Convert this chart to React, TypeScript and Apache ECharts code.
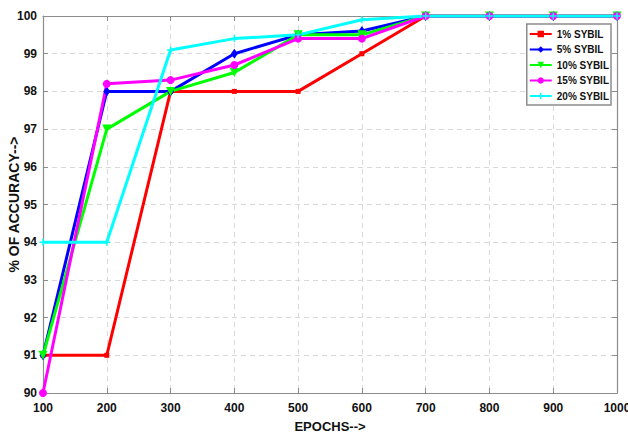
import React, { useEffect, useRef } from "react";
import * as echarts from "echarts";

const epochs = [100, 200, 300, 400, 500, 600, 700, 800, 900, 1000];
const sybil1 = [91, 91, 98, 98, 98, 99, 100, 100, 100, 100];
const sybil5 = [91, 98, 98, 99, 99.5, 99.6, 100, 100, 100, 100];
const sybil10 = [91, 97, 98, 98.5, 99.5, 99.5, 100, 100, 100, 100];
const sybil15 = [90, 98.2, 98.3, 98.7, 99.4, 99.4, 100, 100, 100, 100];
const sybil20 = [94, 94, 99.1, 99.4, 99.5, 99.9, 100, 100, 100, 100];
const seriesNames = ["1% SYBIL", "5% SYBIL", "10% SYBIL", "15% SYBIL", "20% SYBIL"];
const seriesColors = ["#ff0000", "#0000ff", "#00ff00", "#ff00ff", "#00ffff"];

const FONT = "'Liberation Sans', Arial, sans-serif";

export default function App() {
  const ref = useRef<HTMLDivElement>(null);
  useEffect(() => {
    if (!ref.current) return;
    const chart = echarts.init(ref.current, undefined, { renderer: "svg" });
    const all = [sybil1, sybil5, sybil10, sybil15, sybil20];
    const symbols = [
      "rect",
      "diamond",
      "path://M0,0 L10,0 L5,9 Z",
      "circle",
      "path://M4,0 L6,0 L6,4 L10,4 L10,6 L6,6 L6,10 L4,10 L4,6 L0,6 L0,4 L4,4 Z",
    ];
    const sizes = [5, [7, 10], 9, 8, 7];
    const series = all.map((vals, i) => ({
      name: seriesNames[i],
      type: "line",
      data: epochs.map((e, j) => [e, vals[j]]),
      symbol: symbols[i],
      symbolSize: sizes[i],
      showAllSymbol: true,
      lineStyle: { color: seriesColors[i], width: 3 },
      itemStyle: { color: seriesColors[i] },
      xAxisIndex: 0,
      yAxisIndex: 0,
    }));
    const frameLine = { show: true, lineStyle: { color: "#8c8c8c", width: 1.2 } };
    const inTick = { show: true, inside: true, length: 5, lineStyle: { color: "#8c8c8c" } };
    chart.setOption({
      animation: false,
      backgroundColor: "#ffffff",
      grid: { left: 43, right: 11, top: 16, bottom: 44, containLabel: false, outerBoundsMode: "none" },
      legend: {
        orient: "vertical",
        right: 17,
        top: 24,
        backgroundColor: "#ffffff",
        borderColor: "#8c8c8c",
        borderWidth: 1.5,
        padding: [5, 2, 4, 2],
        itemWidth: 22,
        itemHeight: 8,
        itemGap: 5.5,
        textStyle: { fontFamily: FONT, fontWeight: "bold", fontSize: 10, color: "#111" },
        data: seriesNames,
      },
      xAxis: [
        {
          type: "value",
          min: 100,
          max: 1000,
          interval: 100,
          position: "bottom",
          name: "EPOCHS-->",
          nameLocation: "middle",
          nameGap: 27,
          nameMoveOverlap: false,
          nameTextStyle: { fontFamily: FONT, fontWeight: "bold", fontSize: 13, color: "#111" },
          axisLine: frameLine,
          axisTick: inTick,
          axisLabel: {
            fontFamily: FONT,
            fontWeight: "bold",
            fontSize: 12,
            color: "#111",
            margin: 9,
            formatter: (v: number) => String(v),
          },
          splitLine: { show: true, lineStyle: { color: "#d9d9d9", type: [5, 4], width: 1 } },
        },
        {
          type: "value",
          min: 100,
          max: 1000,
          interval: 100,
          position: "top",
          axisLine: frameLine,
          axisTick: inTick,
          axisLabel: { show: false },
          splitLine: { show: false },
        },
      ],
      yAxis: [
        {
          type: "value",
          min: 90,
          max: 100,
          interval: 1,
          position: "left",
          name: "% OF ACCURACY-->",
          nameLocation: "middle",
          nameGap: 22,
          nameMoveOverlap: false,
          nameTextStyle: { fontFamily: FONT, fontWeight: "bold", fontSize: 14, color: "#111" },
          axisLine: frameLine,
          axisTick: inTick,
          axisLabel: { fontFamily: FONT, fontWeight: "bold", fontSize: 12, color: "#111", margin: 6 },
          splitLine: { show: true, lineStyle: { color: "#d9d9d9", type: [5, 4], width: 1 } },
        },
        {
          type: "value",
          min: 90,
          max: 100,
          interval: 1,
          position: "right",
          axisLine: frameLine,
          axisTick: inTick,
          axisLabel: { show: false },
          splitLine: { show: false },
        },
      ],
      series,
    });
    return () => chart.dispose();
  }, []);
  return <div ref={ref} style={{ width: 628, height: 437, position: "absolute", left: 0, top: 0 }} />;
}
